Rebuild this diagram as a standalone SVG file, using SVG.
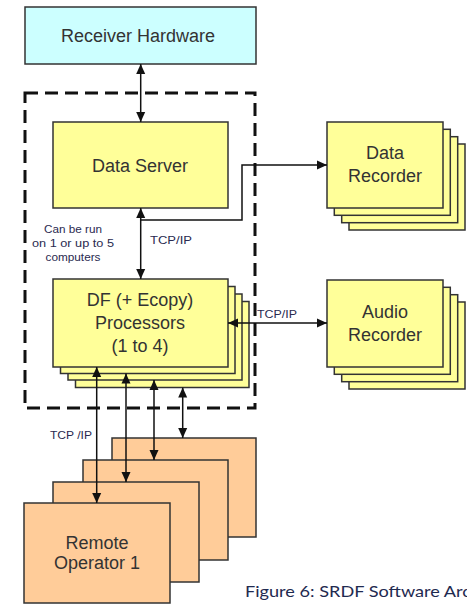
<svg xmlns="http://www.w3.org/2000/svg" width="467" height="604" viewBox="0 0 467 604">
<defs>
<marker id="ah" viewBox="0 0 10 10" refX="10" refY="5" markerWidth="10" markerHeight="10" markerUnits="userSpaceOnUse" orient="auto-start-reverse">
<path d="M0,0.5 L10,5 L0,9.5 Z" fill="#111"/>
</marker>
<style>
.box{stroke:#333;stroke-width:1.5}
.cyan{fill:#ccffff}
.yel{fill:#ffff99}
.org{fill:#ffcc99}
.lbl{font-family:"Liberation Sans",Arial,sans-serif;font-size:18px;fill:#333;text-anchor:middle}
.sm{font-family:"Liberation Sans",Arial,sans-serif;font-size:10px;fill:#2a2a50}
.conn{stroke:#111;stroke-width:1.5;fill:none}
.dash{stroke:#111;stroke-width:3;fill:none;stroke-dasharray:13 7}
</style>
</defs>
<rect width="467" height="604" fill="#fff"/>

<g id="cluster">
<rect class="dash" x="25" y="93" width="230" height="315"/>
<text class="sm" x="73" y="233" text-anchor="middle" textLength="58" lengthAdjust="spacingAndGlyphs">Can be run</text>
<text class="sm" x="73" y="247" text-anchor="middle" textLength="82" lengthAdjust="spacingAndGlyphs">on 1 or up to  5</text>
<text class="sm" x="73" y="261" text-anchor="middle" textLength="55" lengthAdjust="spacingAndGlyphs">computers</text>
</g>

<g id="receiver">
<rect class="box cyan" x="25" y="7" width="231" height="57"/>
<text class="lbl" x="138" y="42">Receiver Hardware</text>
</g>

<g id="dataserver">
<rect class="box yel" x="53" y="122" width="175" height="86"/>
<text class="lbl" x="140" y="172">Data Server</text>
</g>

<g id="datarecorder">
<rect class="box yel" x="349" y="144" width="116" height="86"/>
<rect class="box yel" x="341.7" y="136.7" width="116" height="86"/>
<rect class="box yel" x="334.3" y="129.3" width="116" height="86"/>
<rect class="box yel" x="327" y="122" width="116" height="86"/>
<text class="lbl" x="385" y="159">Data</text>
<text class="lbl" x="385" y="182">Recorder</text>
</g>

<g id="audiorecorder">
<rect class="box yel" x="349" y="302" width="116" height="87"/>
<rect class="box yel" x="341.7" y="294.7" width="116" height="87"/>
<rect class="box yel" x="334.3" y="287.3" width="116" height="87"/>
<rect class="box yel" x="327" y="280" width="116" height="87"/>
<text class="lbl" x="385" y="318">Audio</text>
<text class="lbl" x="385" y="341">Recorder</text>
</g>

<g id="dfprocessors">
<rect class="box yel" x="75.5" y="301.5" width="173.5" height="86"/>
<rect class="box yel" x="68" y="294" width="174" height="86"/>
<rect class="box yel" x="60.5" y="286.5" width="174.5" height="87"/>
<rect class="box yel" x="53" y="279" width="175" height="88"/>
<text class="lbl" x="140" y="306">DF (+ Ecopy)</text>
<text class="lbl" x="140" y="329">Processors</text>
<text class="lbl" x="140" y="352">(1 to 4)</text>
</g>

<g id="remote4">
<rect class="box org" x="112" y="438" width="144" height="99"/>
</g>
<g id="remote3">
<rect class="box org" x="83" y="460" width="145" height="100"/>
</g>
<g id="remote2">
<rect class="box org" x="53" y="482" width="146" height="100"/>
</g>
<g id="remote1">
<rect class="box org" x="24" y="503" width="146" height="100"/>
<text class="lbl" x="97" y="549">Remote</text>
<text class="lbl" x="97" y="569">Operator  1</text>
</g>

<g id="connectors">
<line class="conn" x1="140.7" y1="64" x2="140.7" y2="122" marker-start="url(#ah)" marker-end="url(#ah)"/>
<line class="conn" x1="140.7" y1="208" x2="140.7" y2="279" marker-start="url(#ah)" marker-end="url(#ah)"/>
<path class="conn" d="M140.7,220 H242 V165 H327" marker-end="url(#ah)"/>
<line class="conn" x1="228" y1="323" x2="327" y2="323" marker-start="url(#ah)" marker-end="url(#ah)"/>
<line class="conn" x1="96.7" y1="367" x2="96.7" y2="503" marker-start="url(#ah)" marker-end="url(#ah)"/>
<line class="conn" x1="126" y1="373.5" x2="126" y2="482" marker-start="url(#ah)" marker-end="url(#ah)"/>
<line class="conn" x1="154" y1="380" x2="154" y2="460" marker-start="url(#ah)" marker-end="url(#ah)"/>
<line class="conn" x1="182.7" y1="387.5" x2="182.7" y2="438" marker-start="url(#ah)" marker-end="url(#ah)"/>
<text class="sm" x="150" y="244" textLength="42" lengthAdjust="spacingAndGlyphs">TCP/IP</text>
<text class="sm" x="50" y="439" textLength="42" lengthAdjust="spacingAndGlyphs">TCP /IP</text>
<text class="sm" x="257" y="318" textLength="40" lengthAdjust="spacingAndGlyphs" fill="#3a2a6a">TCP/IP</text>
</g>

<text x="245" y="597" font-family="Lato,'Open Sans','DejaVu Sans',sans-serif" font-size="16" fill="#1f2a50" textLength="226" lengthAdjust="spacingAndGlyphs">Figure 6: SRDF Software Arc</text>
</svg>
